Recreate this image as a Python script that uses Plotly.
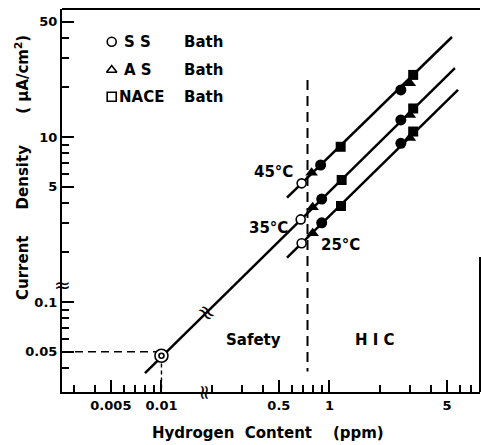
import plotly.graph_objects as go

# ---------------- data (real units) ----------------
# x: hydrogen content (ppm), y: current density (uA/cm2)
temps = ["45°C", "35°C", "25°C"]

# open circles: SS bath, no HIC (safety side)
ss_open_x = [0.683, 0.674, 0.683]
ss_open_y = [5.24, 3.17, 2.27]

# filled symbols: HIC observed  (pairs per temperature: 45, 35, 25 °C)
ss_x = [0.886, 2.66, 0.899, 2.66, 0.899, 2.66]
ss_y = [6.77, 19.3, 4.21, 12.7, 3.02, 9.16]

as_x = [0.783, 3.01, 0.794, 3.01, 0.794, 3.01]
as_y = [6.08, 21.2, 3.75, 13.6, 2.61, 9.86]

nace_x = [1.166, 3.15, 1.182, 3.15, 1.171, 3.15]
nace_y = [8.73, 23.8, 5.49, 14.9, 3.82, 10.8]

# calibration point (double circle)
calib_x = [0.01]
calib_y = [0.0473]

# fitted lines (end points)
line45_x = [0.559, 5.36]
line45_y = [4.29, 40.4]
line35_x = [0.00798, 5.58]
line35_y = [0.0371, 26.2]
line25_x = [0.559, 5.82]
line25_y = [1.86, 19.3]

# safety / HIC boundary
boundary_x = [0.74, 0.74]
boundary_y = [22.2, 0.038]

# guide lines to the calibration point
guide_h_y = 0.05
guide_h_xend = 0.0093
guide_v_x = 0.01
guide_v_ystart = 0.0425

# ticks
x_major = [0.005, 0.01, 0.5, 1, 5]
x_major_labels = ["0.005", "0.01", "0.5", "1", "5"]
x_minor = [0.003, 0.004, 0.006, 0.007, 0.008, 0.009,
           0.2, 0.3, 0.4, 0.6, 0.7, 0.8, 0.9, 2, 3, 4, 6, 7]
y_major = [50, 10, 5, 0.1, 0.05]
y_major_labels = ["50", "10", "5", "0.1", "0.05"]
y_minor = [40, 30, 20, 9, 8, 7, 6, 4, 3, 2, 0.09, 0.08, 0.07, 0.06, 0.04]

legend_names = ["S S", "A S", "NACE"]
legend_symbols = ["circle-open", "triangle-up-open", "square-open"]

# ---------------- broken axes ----------------
X_BREAK = 0.05   # x values below this are drawn one decade to the right
Y_BREAK = 0.5    # y values below this are drawn one decade higher
X_RANGE = [-1.592, 0.896]
Y_RANGE = [-0.545, 1.776]


def bx(vals):
    return [v * 10 if v < X_BREAK else v for v in vals]


def by(vals):
    return [v * 10 if v < Y_BREAK else v for v in vals]


FIG_W, FIG_H = 481, 445
M_L, M_R, M_T, M_B = 62, 1, 9, 53
PW = FIG_W - M_L - M_R
PH = FIG_H - M_T - M_B


def px(x):
    return (x - M_L) / PW


def py(y):
    return (FIG_H - M_B - y) / PH


FONT = "DejaVu Sans"
BLACK = "black"
NB = "\u00a0"

fig = go.Figure()

# fitted lines
for lx, ly in [(line45_x, line45_y), (line35_x, line35_y), (line25_x, line25_y)]:
    fig.add_trace(go.Scatter(x=bx(lx), y=by(ly), mode="lines",
                             line=dict(color=BLACK, width=2.5),
                             showlegend=False, hoverinfo="skip"))

# boundary
fig.add_trace(go.Scatter(x=bx(boundary_x), y=by(boundary_y), mode="lines",
                         line=dict(color=BLACK, width=2, dash="10px,6px"),
                         showlegend=False, hoverinfo="skip"))

# guides
x_axis_min_real = 10 ** X_RANGE[0] / 10
y_axis_min_real = 10 ** Y_RANGE[0] / 10
fig.add_trace(go.Scatter(x=bx([x_axis_min_real, guide_h_xend]), y=by([guide_h_y, guide_h_y]),
                         mode="lines", line=dict(color=BLACK, width=1.6, dash="8px,5px"),
                         showlegend=False, hoverinfo="skip"))
fig.add_trace(go.Scatter(x=bx([guide_v_x, guide_v_x]), y=by([guide_v_ystart, y_axis_min_real]),
                         mode="lines", line=dict(color=BLACK, width=1.4, dash="4px,3px"),
                         showlegend=False, hoverinfo="skip"))

# markers
fig.add_trace(go.Scatter(x=bx(as_x), y=by(as_y), mode="markers",
                         marker=dict(symbol="triangle-up", size=11, color=BLACK),
                         showlegend=False, hoverinfo="skip"))
fig.add_trace(go.Scatter(x=bx(ss_x), y=by(ss_y), mode="markers",
                         marker=dict(symbol="circle", size=11, color=BLACK),
                         showlegend=False, hoverinfo="skip"))
fig.add_trace(go.Scatter(x=bx(nace_x), y=by(nace_y), mode="markers",
                         marker=dict(symbol="square", size=10, color=BLACK),
                         showlegend=False, hoverinfo="skip"))
fig.add_trace(go.Scatter(x=bx(ss_open_x), y=by(ss_open_y), mode="markers",
                         marker=dict(symbol="circle", size=9, color="white",
                                     line=dict(color=BLACK, width=1.6)),
                         showlegend=False, hoverinfo="skip"))
fig.add_trace(go.Scatter(x=bx(calib_x), y=by(calib_y), mode="markers",
                         marker=dict(symbol="circle", size=13, color="white",
                                     line=dict(color=BLACK, width=1.6)),
                         showlegend=False, hoverinfo="skip"))
fig.add_trace(go.Scatter(x=bx(calib_x), y=by(calib_y), mode="markers",
                         marker=dict(symbol="circle-open", size=5, color=BLACK,
                                     line=dict(color=BLACK, width=1.6)),
                         showlegend=False, hoverinfo="skip"))

# legend keys on an overlay (paper-like) axis
leg_x = px(111.7)
leg_rows_px = [41.7, 70, 96.7]
for sym, yy in zip(legend_symbols, leg_rows_px):
    fig.add_trace(go.Scatter(x=[leg_x], y=[py(yy)], xaxis="x2", yaxis="y2", mode="markers",
                             marker=dict(symbol=sym, size=9, color=BLACK,
                                         line=dict(color=BLACK, width=1.6)),
                             showlegend=False, hoverinfo="skip"))

annotations = []
lab_font = dict(family=FONT, size=15, color=BLACK, weight="bold")


def note(x, y, text, font=lab_font, xanchor="center", angle=0):
    annotations.append(dict(x=px(x), y=py(y), xref="paper", yref="paper", text=text,
                            showarrow=False, xanchor=xanchor, yanchor="middle",
                            textangle=angle, font=font, borderpad=0))


name_x = [123, 123, 118]
for name, nx, yy in zip(legend_names, name_x, leg_rows_px):
    note(nx, yy, name, xanchor="left")
    note(183, yy, "Bath", xanchor="left")

# temperature labels
for t, (tx, ty) in zip(temps, [(273.5, 171.7), (268, 228), (340, 245)]):
    note(tx, ty, t)

note(253, 340, "Safety")
note(375, 340, "H" + NB + "I" + NB + "C")

# axis titles
note(268, 433, "Hydrogen" + NB * 2 + "Content" + NB * 4 + "(ppm)")
note(22, 168, "Current" + NB * 5 + "Density" + NB * 6 + "(" + NB + "μA/cm<sup>2</sup>)", angle=-90)

# break marks
brk_font = dict(family=FONT, size=20, color=BLACK)
note(62, 285, "≈", font=brk_font)
note(205, 392, "≈", font=brk_font, angle=90)
note(207, 312, "≈", font=dict(family=FONT, size=22, color=BLACK), angle=45)

tick_font = dict(family=FONT, size=13, color=BLACK, weight="bold")
fig.update_layout(
    width=FIG_W, height=FIG_H,
    margin=dict(l=M_L, r=M_R, t=M_T, b=M_B),
    paper_bgcolor="white", plot_bgcolor="white",
    showlegend=False,
    xaxis=dict(type="log", range=X_RANGE, showline=True, linecolor=BLACK, linewidth=2,
               showgrid=False, zeroline=False, ticks="inside", ticklen=12, tickwidth=1.6,
               tickcolor=BLACK, tickmode="array", tickvals=bx(x_major), ticktext=x_major_labels,
               tickfont=tick_font,
               minor=dict(tickmode="array", tickvals=bx(x_minor), ticks="inside", ticklen=7,
                          tickwidth=1.6, tickcolor=BLACK, showgrid=False)),
    yaxis=dict(type="log", range=Y_RANGE, showline=True, linecolor=BLACK, linewidth=2,
               showgrid=False, zeroline=False, ticks="inside", ticklen=12, tickwidth=1.6,
               tickcolor=BLACK, tickmode="array", tickvals=by(y_major), ticktext=y_major_labels,
               tickfont=tick_font,
               minor=dict(tickmode="array", tickvals=by(y_minor), ticks="inside", ticklen=7,
                          tickwidth=1.6, tickcolor=BLACK, showgrid=False)),
    xaxis2=dict(range=[0, 1], overlaying="x", visible=False, fixedrange=True),
    yaxis2=dict(range=[0, 1], overlaying="y", visible=False, fixedrange=True),
    annotations=annotations,
    shapes=[
        dict(type="line", xref="paper", yref="paper", x0=0, x1=1, y0=1, y1=1,
             line=dict(color=BLACK, width=2)),
        dict(type="line", xref="paper", yref="paper", x0=1, x1=1, y0=0, y1=py(257),
             line=dict(color=BLACK, width=2)),
    ],
)

fig.write_html("out.html")
